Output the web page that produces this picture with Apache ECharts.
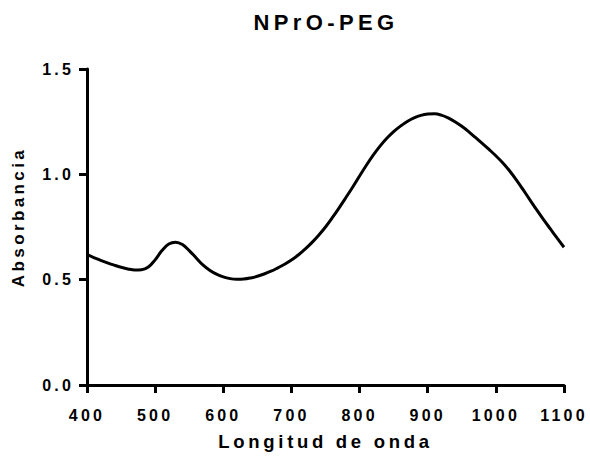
<!DOCTYPE html>
<html>
<head>
<meta charset="utf-8">
<script src="https://cdn.jsdelivr.net/npm/echarts@6/dist/echarts.min.js"></script>
<style>
  html, body { margin: 0; padding: 0; background: #fff; }
  #chart { width: 590px; height: 459px; }
  #chart text { letter-spacing: 0.2em; }
</style>
</head>
<body>
<div id="chart"></div>
<script>
const titleText = 'NPrO-PEG';
const xAxisName = 'Longitud de onda';
const yAxisName = 'Absorbancia';
const wavelengths = [400,410,420,430,440,450,460,470,480,490,500,510,520,530,540,550,560,570,580,590,600,610,620,630,640,650,660,670,680,690,700,710,720,730,740,750,760,770,780,790,800,810,820,830,840,850,860,870,880,890,900,910,920,930,940,950,960,970,980,990,1000,1010,1020,1030,1040,1050,1060,1070,1080,1090,1100];
const absorbance = [0.620,0.605,0.592,0.580,0.569,0.559,0.551,0.546,0.547,0.560,0.594,0.638,0.669,0.678,0.667,0.638,0.604,0.570,0.545,0.526,0.513,0.505,0.502,0.503,0.508,0.516,0.527,0.540,0.556,0.573,0.593,0.617,0.645,0.676,0.711,0.750,0.794,0.841,0.890,0.940,0.992,1.043,1.091,1.134,1.171,1.203,1.229,1.251,1.268,1.280,1.286,1.287,1.281,1.268,1.250,1.228,1.203,1.175,1.147,1.118,1.088,1.055,1.017,0.974,0.927,0.879,0.831,0.785,0.741,0.697,0.654];
const xTicks = [400,500,600,700,800,900,1000,1100];
const yTicks = [0.0,0.5,1.0,1.5];

const FONT = '"Liberation Sans", Arial, sans-serif';
const chart = echarts.init(document.getElementById('chart'), null, {renderer: 'svg'});
chart.setOption({
  animation: false,
  backgroundColor: '#fff',
  title: {
    text: titleText,
    left: 321,
    top: 6,
    textAlign: 'center',
    textStyle: {fontFamily: FONT, fontSize: 22, fontWeight: 'bold', color: '#000'}
  },
  grid: {left: 87, right: 26, top: 69, bottom: 74},
  xAxis: {
    type: 'value',
    min: xTicks[0], max: xTicks[xTicks.length - 1], interval: 100,
    name: xAxisName, nameLocation: 'middle', nameGap: 47,
    nameTextStyle: {fontFamily: FONT, fontSize: 18.5, fontWeight: 'bold', color: '#000'},
    axisLine: {lineStyle: {color: '#000', width: 3}},
    axisTick: {length: 8, lineStyle: {color: '#000', width: 3}},
    axisLabel: {margin: 22, fontFamily: FONT, fontSize: 16, fontWeight: 'bold', color: '#000',
      formatter: v => String(v)},
    splitLine: {show: false}
  },
  yAxis: {
    type: 'value',
    min: yTicks[0], max: yTicks[yTicks.length - 1], interval: 0.5,
    name: yAxisName, nameLocation: 'middle', nameGap: 60, nameRotate: 90,
    nameTextStyle: {fontFamily: FONT, fontSize: 17, fontWeight: 'bold', color: '#000',
      padding: [0, 0, 0, 20]},
    axisLine: {show: true, lineStyle: {color: '#000', width: 3}},
    axisTick: {show: true, length: 8, lineStyle: {color: '#000', width: 3}},
    axisLabel: {margin: 13, fontFamily: FONT, fontSize: 16, fontWeight: 'bold', color: '#000',
      formatter: v => v.toFixed(1)},
    splitLine: {show: false}
  },
  series: [{
    type: 'line',
    data: wavelengths.map((w, i) => [w, absorbance[i]]),
    showSymbol: false,
    smooth: 0.4,
    lineStyle: {color: '#000', width: 3},
    itemStyle: {color: '#000'}
  }]
});
</script>
</body>
</html>
